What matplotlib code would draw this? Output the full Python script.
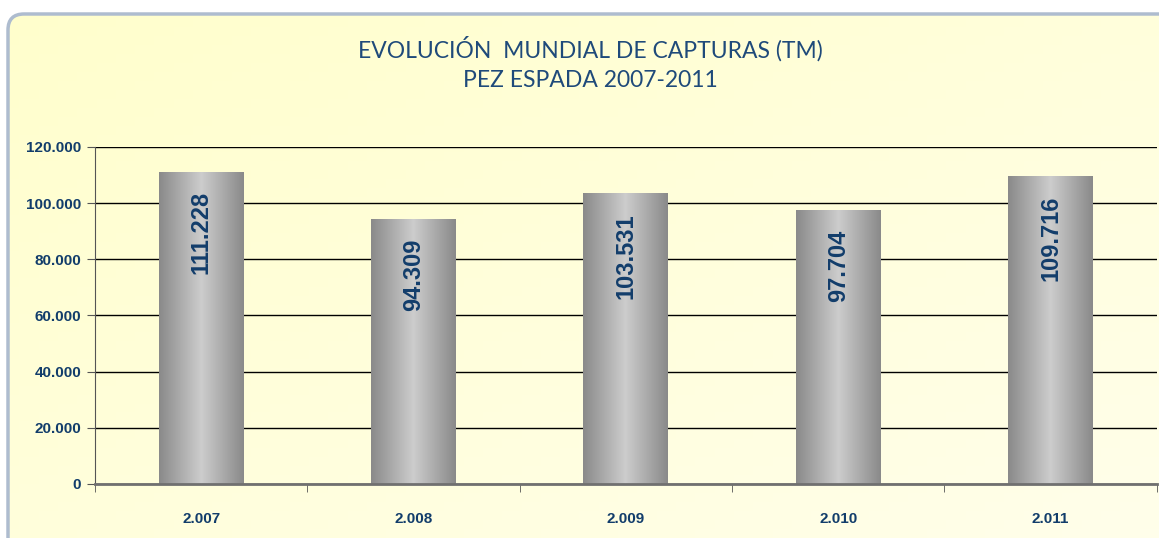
import numpy as np
import matplotlib
matplotlib.use("Agg")
from matplotlib import pyplot as plt
from matplotlib.patches import FancyBboxPatch
from matplotlib.colors import LinearSegmentedColormap
from matplotlib.ticker import FuncFormatter

years = ["2.007", "2.008", "2.009", "2.010", "2.011"]
capturas = [111228, 94309, 103531, 97704, 109716]
labels = ["111.228", "94.309", "103.531", "97.704", "109.716"]
yticks = [0, 20000, 40000, 60000, 80000, 100000, 120000]

navy = "#123D6B"
plt.rcParams["font.family"] = ["Liberation Sans", "DejaVu Sans"]

fig = plt.figure(figsize=(11.59, 5.38), dpi=100)
fig.patch.set_facecolor("white")

# yellow rounded panel behind the chart
bg = fig.add_axes([0, 0, 1, 1])
bg.set_xlim(0, 1159)
bg.set_ylim(0, 538)
bg.axis("off")
panel = FancyBboxPatch((8, -30), 1180, 554, boxstyle="round,pad=0,rounding_size=16",
                       facecolor="none", edgecolor="#AEBCCF", linewidth=2.5,
                       transform=bg.transData, zorder=3)
bg.add_patch(panel)
yy, xx = np.mgrid[0:1:60j, 0:1:60j]
bg_grad = (xx + (1 - yy)) / 2
ycmap = LinearSegmentedColormap.from_list("yel", ["#FFFFCC", "#FFFEEA"])
im = bg.imshow(bg_grad, extent=[0, 1159, 0, 538], cmap=ycmap, aspect="auto",
               origin="lower", zorder=1)
im.set_clip_path(panel)

fig.text(0.509, 0.91, "EVOLUCIÓN  MUNDIAL DE CAPTURAS (TM)", ha="center", va="center",
         fontsize=16.5, color="#1F4A7A", family=["Lato", "DejaVu Sans"])
fig.text(0.509, 0.85, "PEZ ESPADA 2007-2011", ha="center", va="center",
         fontsize=16.5, color="#1F4A7A", family=["Lato", "DejaVu Sans"])

ax = fig.add_axes([0.082, 0.1004, 0.916, 0.6264])
ax.set_facecolor("none")

x = np.arange(len(years))
bars = ax.bar(x, capturas, width=0.4, color="#AAAAAA", zorder=3)

gcmap = LinearSegmentedColormap.from_list("bar", ["#8A8A8A", "#CDCDCD", "#8A8A8A"])
grad = np.linspace(0, 1, 128).reshape(1, -1)
for b in bars:
    gi = ax.imshow(grad, extent=[b.get_x(), b.get_x() + b.get_width(), 0, b.get_height()],
                   cmap=gcmap, aspect="auto", zorder=4)
    gi.set_clip_path(b)

for xi, v, lab in zip(x, capturas, labels):
    ax.text(xi, v - 7000, lab, rotation=90, ha="center", va="top",
            fontsize=17, fontweight="bold", color=navy, zorder=5)

ax.set_xlim(-0.5, len(years) - 0.5)
ax.set_ylim(0, 120000)
ax.set_yticks(yticks)
ax.yaxis.set_major_formatter(FuncFormatter(lambda v, p: f"{int(v):,}".replace(",", ".")))
ax.yaxis.grid(True, color="black", linewidth=1)
ax.set_axisbelow(True)

ax.set_xticks(x)
ax.set_xticklabels(years)
ax.set_xticks(np.arange(len(years) + 1) - 0.5, minor=True)
ax.tick_params(axis="x", which="major", length=0, pad=20)
ax.tick_params(axis="x", which="minor", length=6, color="#555555")
ax.tick_params(axis="y", length=6, color="#555555", pad=4)
for lab in ax.get_xticklabels() + ax.get_yticklabels():
    lab.set_fontsize(11)
    lab.set_fontweight("bold")
    lab.set_color(navy)

ax.spines["top"].set_visible(False)
ax.spines["right"].set_visible(False)
ax.spines["left"].set_color("#555555")
ax.spines["bottom"].set_color("#707070")
ax.spines["bottom"].set_linewidth(2)
ax.spines["bottom"].set_zorder(6)

fig.savefig("out.png", dpi=100)
